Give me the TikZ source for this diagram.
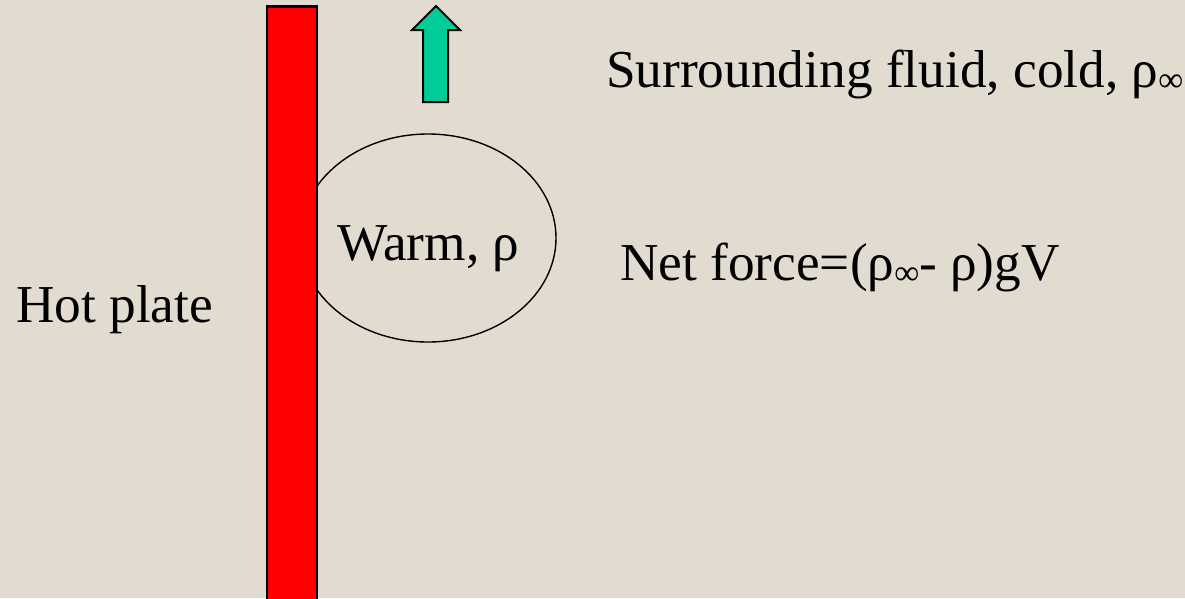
\documentclass[tikz,border=0pt]{standalone}
\usepackage{fontspec}
\setmainfont{Liberation Serif}
\usetikzlibrary{shapes.geometric}
\definecolor{bg}{RGB}{226,220,208}
\definecolor{platered}{RGB}{255,0,0}
\definecolor{arrowgreen}{RGB}{0,204,153}
\newcommand{\infsub}{\raisebox{-4pt}{\fontsize{35}{35}\selectfont ∞}}
\begin{document}
\begin{tikzpicture}[x=1pt,y=-1pt,
  lbl/.style={font=\fontsize{53.3}{60}\selectfont, inner sep=0pt, anchor=base west},
  bubblestyle/.style={draw, ellipse, line width=1.4pt, inner sep=0pt},
  platestyle/.style={draw, fill=platered, line width=2.6pt, inner sep=0pt, anchor=north}]
\fill[bg] (0,0) rectangle (1185,598);
\useasboundingbox (0,0) rectangle (1185,598);
\begin{scope}
\clip (0,0) rectangle (1185,598);
\node[bubblestyle, minimum width=256pt, minimum height=208pt] (bubble) at (428,238) {};
\node[platestyle, minimum width=50pt, minimum height=620pt] (plate) at (292,5) {};
\end{scope}
\draw[fill=arrowgreen, line width=2pt, line join=miter]
  (423,102) -- (423,30) -- (412,30) -- (436,6) -- (460,30) -- (448,30) -- (448,102) -- cycle;
\node[lbl] (hot) at (16,322) {Hot plate};
\node[lbl] (warm) at (337,260) {Warm, ρ};
\node[lbl] (surr) at (606,87) {Surrounding fluid, cold, ρ\infsub};
\node[lbl] (net) at (620,280) {Net force=(ρ\infsub- ρ)gV};
\end{tikzpicture}
\end{document}
